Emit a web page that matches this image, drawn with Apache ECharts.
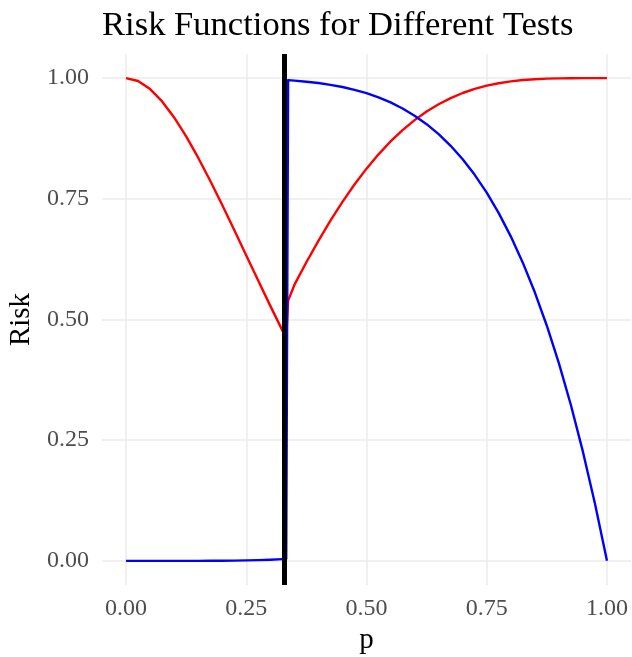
<!DOCTYPE html>
<html>
<head>
<meta charset="utf-8">
<script src="https://cdn.jsdelivr.net/npm/echarts@6/dist/echarts.min.js"></script>
<style>
html, body { margin: 0; padding: 0; background: #fff; }
#main { width: 632px; height: 657px; }
</style>
</head>
<body>
<div id="main"></div>
<script>
var pValues = [0, 0.025, 0.05, 0.075, 0.1, 0.125, 0.15, 0.175, 0.2, 0.225, 0.25, 0.275, 0.3, 0.325, 0.333,
	0.337, 0.35, 0.375, 0.4, 0.425, 0.45, 0.475, 0.5, 0.525, 0.55, 0.575, 0.6, 0.625, 0.65, 0.675, 0.7,
	0.725, 0.75, 0.775, 0.8, 0.825, 0.85, 0.875, 0.9, 0.925, 0.95, 0.975, 1];
var redRisk = [1, 0.9941, 0.9774, 0.9517, 0.9185, 0.8793, 0.8352, 0.7875, 0.7373, 0.6854, 0.6328, 0.5802, 0.5282, 0.4775, 0.4609,
	0.5391, 0.5716, 0.6185, 0.6630, 0.7049, 0.7438, 0.7797, 0.8125, 0.8422, 0.8688, 0.8923, 0.9130, 0.9308, 0.9460, 0.9587, 0.9692,
	0.9777, 0.9844, 0.9895, 0.9933, 0.9960, 0.9978, 0.9989, 0.9995, 0.9999, 1, 1, 1];
var blueRisk = [0, 0, 0, 0, 0.00001, 0.00003, 0.00008, 0.00016, 0.00032, 0.00058, 0.00098, 0.00157, 0.00243, 0.00362, 0.0041,
	0.9959, 0.9948, 0.9926, 0.9898, 0.9861, 0.9816, 0.9758, 0.9688, 0.9601, 0.9497, 0.9372, 0.9222, 0.9046, 0.8840, 0.8599, 0.8319,
	0.7997, 0.7627, 0.7204, 0.6723, 0.6178, 0.5563, 0.4871, 0.4095, 0.3228, 0.2262, 0.1189, 0];
var tickValues = [0, 0.25, 0.5, 0.75, 1];
var cutoff = 1 / 3; //检验分界点

var myChart = echarts.init(document.getElementById('main'));

var pairs = function(ys) {
	var out = [];
	for (var i = 0; i < pValues.length; i++) {
		out.push([pValues[i], ys[i]]);
	}
	return out;
};

var serif = 'Liberation Serif';
var gridLine = { show: true, lineStyle: { color: '#ebebeb', width: 1.5 } };

var option = {
	animation: false,
	backgroundColor: '#ffffff',
	title: {
		text: 'Risk Functions for Different Tests',
		left: 97,
		top: 3,
		textStyle: { fontFamily: serif, fontSize: 34.6, fontWeight: 'normal', color: '#000' }
	},
	grid: { left: 102, right: 1, top: 54, bottom: 72, outerBoundsMode: 'none', containLabel: false },
	xAxis: {
		type: 'value',
		min: -0.05,
		max: 1.05,
		name: 'p',
		nameLocation: 'middle',
		nameGap: 37,
		nameTextStyle: { fontFamily: serif, fontSize: 29, color: '#000' },
		axisLine: { show: false },
		axisTick: { show: false, customValues: tickValues },
		axisLabel: {
			customValues: tickValues,
			margin: 12,
			fontFamily: serif,
			fontSize: 24,
			color: '#4d4d4d',
			formatter: function(v) { return v.toFixed(2); }
		},
		splitLine: gridLine
	},
	yAxis: {
		type: 'value',
		min: -0.05,
		max: 1.05,
		name: 'Risk',
		nameLocation: 'middle',
		nameGap: 64,
		nameRotate: 90,
		nameTextStyle: { fontFamily: serif, fontSize: 29, color: '#000' },
		axisLine: { show: false },
		axisTick: { show: false, customValues: tickValues },
		axisLabel: {
			customValues: tickValues,
			margin: 13,
			fontFamily: serif,
			fontSize: 24,
			color: '#4d4d4d',
			formatter: function(v) { return v.toFixed(2); }
		},
		splitLine: gridLine
	},
	series: [
		{
			type: 'line',
			data: pairs(redRisk),
			showSymbol: false,
			lineStyle: { color: '#ff0000', width: 2.4, join: 'round' },
			z: 2
		},
		{
			type: 'line',
			data: pairs(blueRisk),
			showSymbol: false,
			lineStyle: { color: '#0000ff', width: 2.4, join: 'round' },
			z: 3
		},
		{ // 竖线
			type: 'line',
			data: [],
			z: 5,
			markLine: {
				silent: true,
				symbol: ['none', 'none'],
				label: { show: false },
				lineStyle: { color: '#000000', width: 5, type: 'solid' },
				data: [{ xAxis: cutoff }]
			}
		}
	]
};
myChart.setOption(option);
</script>
</body>
</html>
